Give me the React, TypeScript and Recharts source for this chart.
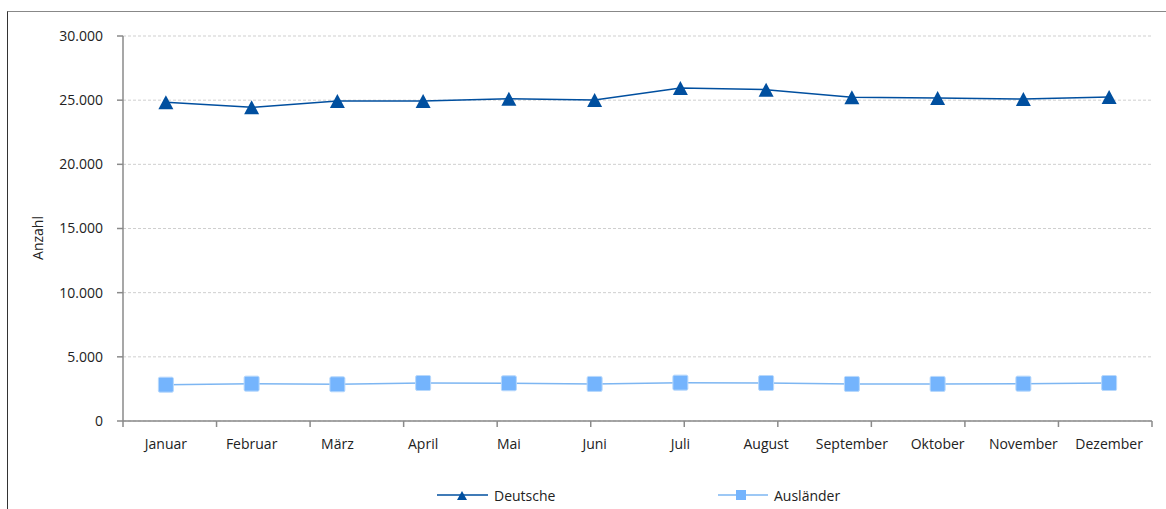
import React from 'react';
import { LineChart, Line, XAxis, YAxis, CartesianGrid } from 'recharts';

const months = ['Januar', 'Februar', 'März', 'April', 'Mai', 'Juni', 'Juli', 'August', 'September', 'Oktober', 'November', 'Dezember'];
const deutsche = [24830, 24440, 24940, 24940, 25120, 25020, 25950, 25820, 25220, 25170, 25090, 25250];
const auslaender = [2830, 2910, 2860, 2960, 2940, 2890, 2990, 2960, 2890, 2890, 2910, 2960];
const yTicks = [0, 5000, 10000, 15000, 20000, 25000, 30000];
const seriesNames = ['Deutsche', 'Ausländer'];

const DARK = '#004f9f';
const LIGHT_LINE = '#7db6f2';
const LIGHT_FILL = '#74b4fd';
const AXIS = '#8a8a8a';
const FONT = '"Open Sans", "DejaVu Sans", sans-serif';

const data = months.map((m, i) => ({ month: m, deutsche: deutsche[i], auslaender: auslaender[i] }));
const edgeTicks = [...months.map((_, i) => i), months.length];

const fmt = (v: number) => (v === 0 ? '0' : v.toLocaleString('de-DE'));

const Triangle = (props: any) => {
  const { cx, cy } = props;
  if (cx == null || cy == null) return null;
  return <polygon points={`${cx - 7.5},${cy + 7} ${cx + 7.5},${cy + 7} ${cx},${cy - 7}`} fill={DARK} />;
};

const Square = (props: any) => {
  const { cx, cy } = props;
  if (cx == null || cy == null) return null;
  return <rect x={cx - 7.5} y={cy - 7.5} width={15} height={15} rx={1.5} fill={LIGHT_FILL} stroke="#b7d8fc" strokeWidth={1} />;
};

const EmptyTick = () => <g />;

const AnzahlLabel = () => (
  <text x={37} y={238} transform="rotate(-90 37 238)" textAnchor="middle" dominantBaseline="central" fill="#222" fontSize={14} fontFamily={FONT}>
    Anzahl
  </text>
);

export default function App() {
  return (
    <div style={{ position: 'absolute', left: 0, top: 0, width: 1166, height: 509, background: '#fff', overflow: 'hidden', fontFamily: FONT }}>
      <div style={{ position: 'absolute', left: 7, top: 11, width: 1200, height: 600, borderLeft: '1.5px solid #333', borderTop: '1.5px solid #888' }} />
      <div style={{ position: 'absolute', left: 0, top: 0 }}>
        <LineChart width={1166} height={509} data={data} margin={{ top: 36, right: 14, bottom: 58, left: 0 }} style={{ fontFamily: FONT }}>
          <CartesianGrid xAxisId="b_cat" vertical={false} stroke="#cfcfcf" strokeDasharray="3 2" />
          <XAxis xAxisId="a_edges" type="number" domain={[0, 12]} ticks={edgeTicks} tick={<EmptyTick />} tickLine={{ stroke: AXIS, strokeWidth: 1.5 }} height={1} stroke={AXIS} strokeWidth={1.5} tickSize={6} allowDataOverflow interval={0} />
          <XAxis xAxisId="b_cat" dataKey="month" scale="band" axisLine={false} tickLine={false} height={29} tickSize={0} tickMargin={17} tick={{ fill: '#222', fontSize: 14 }} interval={0} />
          <YAxis domain={[0, 30000]} ticks={yTicks} width={123} stroke={AXIS} strokeWidth={1.5} tickSize={6} tickMargin={14} tickFormatter={fmt} tick={{ fill: '#222', fontSize: 14 }} label={<AnzahlLabel />} interval={0} />
          <Line xAxisId="b_cat" type="linear" dataKey="deutsche" name={seriesNames[0]} stroke={DARK} strokeWidth={1.5} dot={<Triangle />} activeDot={false} isAnimationActive={false} />
          <Line xAxisId="b_cat" type="linear" dataKey="auslaender" name={seriesNames[1]} stroke={LIGHT_LINE} strokeWidth={1.5} dot={<Square />} activeDot={false} isAnimationActive={false} />
        </LineChart>
      </div>
      <svg style={{ position: 'absolute', left: 0, top: 483 }} width={1166} height={24}>
        <line x1={437} x2={488} y1={12} y2={12} stroke={DARK} strokeWidth={1.5} />
        <polygon points={`${457},${17} ${467},${17} ${462},${8}`} fill={DARK} />
        <text x={494} y={12} dominantBaseline="central" fontSize={14} fill="#222" fontFamily={FONT}>{seriesNames[0]}</text>
        <line x1={718} x2={768} y1={12} y2={12} stroke={LIGHT_LINE} strokeWidth={1.5} />
        <rect x={736} y={7} width={10} height={10} fill={LIGHT_FILL} />
        <text x={774} y={12} dominantBaseline="central" fontSize={14} fill="#222" fontFamily={FONT}>{seriesNames[1]}</text>
      </svg>
    </div>
  );
}
